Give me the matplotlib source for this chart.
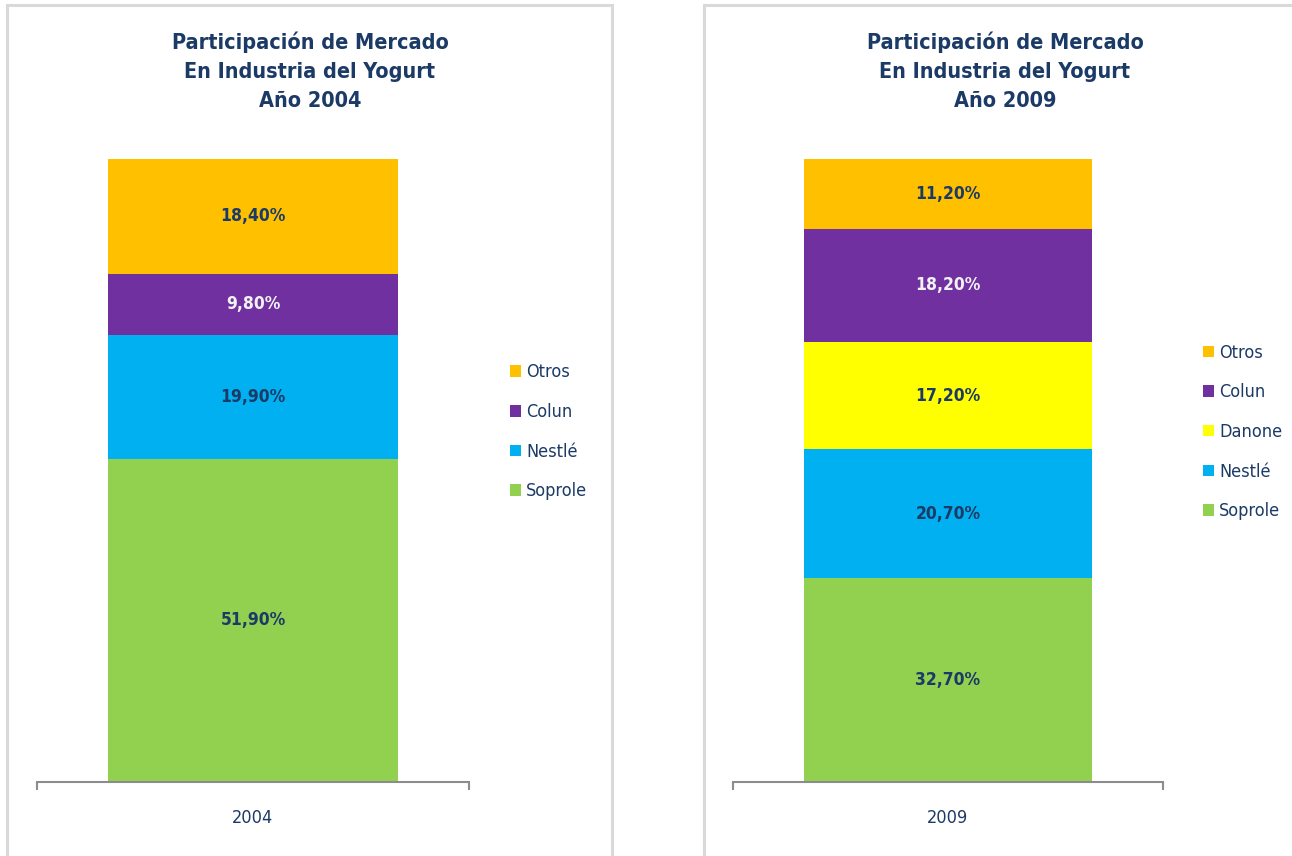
import matplotlib
matplotlib.use('Agg')
import matplotlib.pyplot as plt
from matplotlib.patches import Rectangle

plt.rcParams['font.family'] = ['DejaVu Sans']
plt.rcParams['font.stretch'] = 'condensed'

# data
years = ['2004', '2009']
brands_2004 = ['Soprole', 'Nestlé', 'Colun', 'Otros']
share_2004 = [51.9, 19.9, 9.8, 18.4]
brands_2009 = ['Soprole', 'Nestlé', 'Danone', 'Colun', 'Otros']
share_2009 = [32.7, 20.7, 17.2, 18.2, 11.2]

colors = {'Soprole': '#92D050', 'Nestlé': '#00B0F0', 'Danone': '#FFFF00',
          'Colun': '#7030A0', 'Otros': '#FFC000'}
navy = '#1B3A66'

W, H = 1292, 856
fig = plt.figure(figsize=(W / 100, H / 100), dpi=100)


def px(x0, y0, x1, y1):
    # pixel box (top-left origin) -> figure fraction rect
    return [x0 / W, 1 - y1 / H, (x1 - x0) / W, (y1 - y0) / H]


# panel borders
for x0, x1 in [(7, 612), (704, 1300)]:
    fig.patches.append(Rectangle((x0 / W, -0.01), (x1 - x0) / W, 1 - 5 / H + 0.01,
                                 transform=fig.transFigure, fill=False,
                                 edgecolor='#D9D9D9', linewidth=2.2))

panels = [
    (years[0], brands_2004, share_2004, px(37, 159, 469, 782), 310, 501),
    (years[1], brands_2009, share_2009, px(733, 159, 1163, 782), 1005, 1194),
]

for year, brands, shares, rect, tx, lx in panels:
    ax = fig.add_axes(rect)
    bottom = 0
    handles = []
    for b, v in zip(brands, shares):
        h = ax.bar(0, v, width=0.669, bottom=bottom, color=colors[b], label=b)
        handles.append(h)
        tc = '#F2F2F2' if b == 'Colun' else navy
        ax.text(0, bottom + v / 2, f'{v:.2f}%'.replace('.', ','), ha='center', va='center',
                fontsize=12.5, fontweight='bold', color=tc)
        bottom += v
    ax.set_xlim(-0.5, 0.5)
    ax.set_ylim(0, 100)
    for s in ['top', 'right', 'left']:
        ax.spines[s].set_visible(False)
    ax.spines['bottom'].set_color('#8C8C8C')
    ax.spines['bottom'].set_linewidth(1.5)
    ax.set_yticks([])
    ax.set_xticks([-0.5, 0.5])
    ax.set_xticklabels([])
    ax.tick_params(axis='x', length=6, width=1.5, color='#8C8C8C')
    ax.text(0.5, -0.058, year, transform=ax.transAxes, ha='center', va='center',
            fontsize=13, color=navy)

    fig.text(tx / W, 1 - 71 / H,
             f'Participación de Mercado\nEn Industria del Yogurt\nAño {year}',
             ha='center', va='center', fontsize=15.5, fontweight='bold', color=navy,
             linespacing=1.55)

    leg = fig.legend(handles[::-1], brands[::-1], loc='center left',
                     bbox_to_anchor=(lx / W, 1 - 432 / H), frameon=False,
                     fontsize=13, handlelength=0.6, handleheight=0.6,
                     handletextpad=0.3, labelspacing=1.2, borderpad=0)
    for t in leg.get_texts():
        t.set_color(navy)

fig.savefig('out.png', dpi=100)
